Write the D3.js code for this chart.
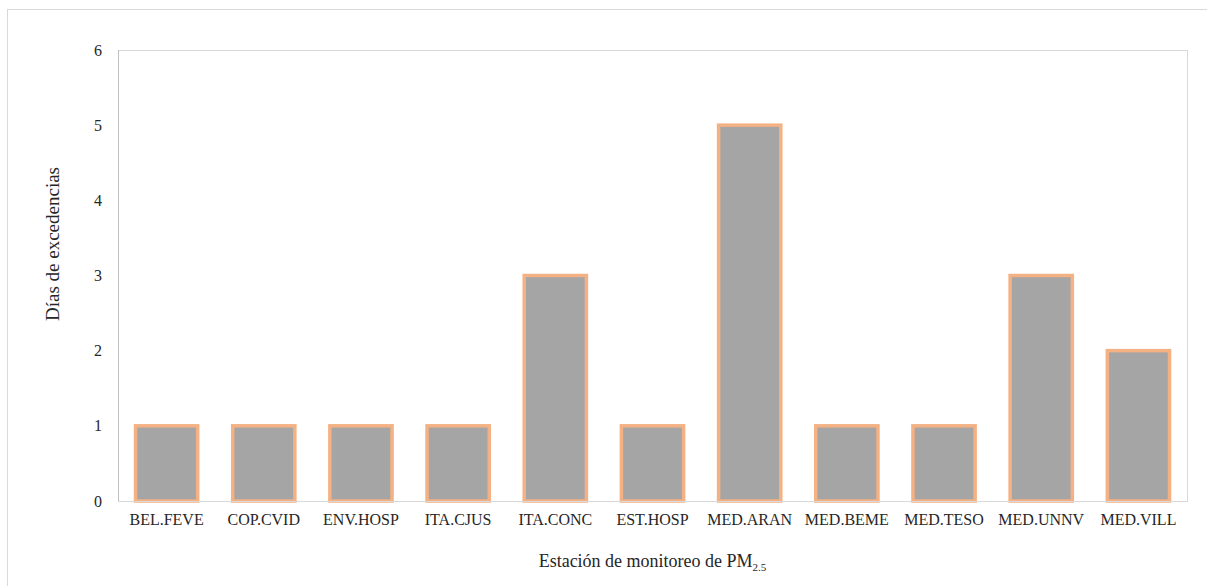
<!DOCTYPE html>
<html><head><meta charset="utf-8">
<script src="https://cdn.jsdelivr.net/npm/d3@7"></script>
<style>body{margin:0;background:#fff}svg{display:block}text{font-family:"Liberation Serif","Times New Roman",serif;fill:#262626}</style>
</head><body>
<script>
const categories = ["BEL.FEVE","COP.CVID","ENV.HOSP","ITA.CJUS","ITA.CONC","EST.HOSP","MED.ARAN","MED.BEME","MED.TESO","MED.UNNV","MED.VILL"];
const values = [1,1,1,1,3,1,5,1,1,3,2];
const yTicks = [0,1,2,3,4,5,6];

const W = 1207, H = 586;
const m = {left:118, right:1187, top:50, bottom:501};
const svg = d3.select("body").append("svg").attr("width",W).attr("height",H);

svg.append("rect").attr("x",7.5).attr("y",9.5).attr("width",W).attr("height",H)
  .attr("fill","none").attr("stroke","#D9D9D9");

const x = d3.scaleBand().domain(categories).range([m.left,m.right]).paddingInner(0.36).paddingOuter(0.18);
const y = d3.scaleLinear().domain([0,6]).range([m.bottom,m.top]);

// plot border
svg.append("rect").attr("x",m.left+0.5).attr("y",m.top+0.5).attr("width",m.right-m.left).attr("height",m.bottom-m.top)
  .attr("fill","none").attr("stroke","#D9D9D9");
svg.append("line").attr("x1",m.left+0.5).attr("x2",m.left+0.5).attr("y1",m.top).attr("y2",m.bottom)
  .attr("stroke","#BFBFBF");

svg.append("g").selectAll("rect").data(values).join("rect")
  .attr("x",(d,i)=>x(categories[i]))
  .attr("y",d=>y(d))
  .attr("width",x.bandwidth())
  .attr("height",d=>y(0)-y(d))
  .attr("fill","#A5A5A5")
  .attr("stroke","#F4B183")
  .attr("stroke-width",3.5);

svg.append("line").attr("x1",m.left).attr("x2",m.right).attr("y1",m.bottom+0.5).attr("y2",m.bottom+0.5)
  .attr("stroke","#D9D9D9");

const yAxis = svg.append("g").attr("transform",`translate(${m.left},0)`)
  .call(d3.axisLeft(y).tickValues(yTicks).tickFormat(d3.format("d")).tickSize(0).tickPadding(16));
yAxis.select(".domain").remove();
yAxis.selectAll("text").style("font-size","16px").style("font-family",'"Liberation Serif",serif').attr("fill","#262626");

const xAxis = svg.append("g").attr("transform",`translate(0,${m.bottom})`)
  .call(d3.axisBottom(x).tickSize(0).tickPadding(13));
xAxis.select(".domain").remove();
xAxis.selectAll("text").style("font-size","16px").style("font-family",'"Liberation Serif",serif').attr("fill","#262626");

svg.append("text").attr("transform","translate(59,244) rotate(-90)").attr("text-anchor","middle")
  .style("font-size","19px").text("Días de excedencias");

const t = svg.append("text").attr("x",(m.left+m.right)/2).attr("y",567).attr("text-anchor","middle").style("font-size","18px");
t.append("tspan").text("Estación de monitoreo de PM");
t.append("tspan").attr("dy",4).style("font-size","11px").text("2.5");
</script>
</body></html>
